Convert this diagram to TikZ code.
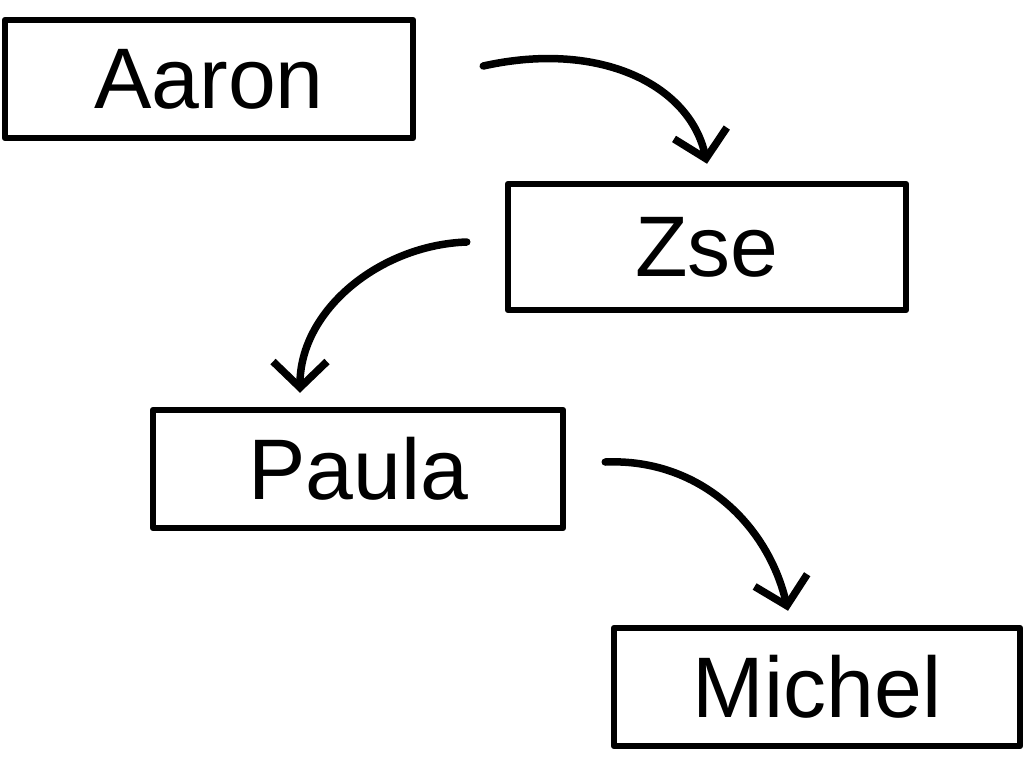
\documentclass[tikz,border=0pt]{standalone}
\usepackage{fontspec}
\setmainfont{Liberation Sans}
\usetikzlibrary{arrows.meta}
\begin{document}
\begin{tikzpicture}[x=1pt,y=-1pt,
  namebox/.style={draw=black,line width=6.5pt,line join=round,minimum width=#1,minimum height=118pt,inner sep=0pt,font=\fontsize{86}{100}\selectfont},
  conn/.style={line width=7.5pt,line cap=round,-{Straight Barb[length=26pt,width=54pt,line width=7.5pt]}}]
\useasboundingbox (0,0) rectangle (1024,768);
\node[namebox=408pt] (aaron) at (209,79) {Aaron};
\node[namebox=398pt,minimum height=126pt] (zse) at (707,247) {Zse};
\node[namebox=410pt] (paula) at (358,469) {Paula};
\node[namebox=406pt] (michel) at (817,687) {Michel};
\coordinate (a1) at ([shift={(67,-13)}]aaron.east);
\coordinate (a2) at ([shift={(0,-17)}]zse.north);
\coordinate (b1) at ([shift={(-38,-5)}]zse.west);
\coordinate (b2) at ([shift={(-58,-14)}]paula.north);
\coordinate (c1) at ([shift={(39,-7)}]paula.east);
\coordinate (c2) at ([shift={(-29,-14)}]michel.north);
\draw[conn] (a1) .. controls (600,40) and (690,85) .. (a2);
\draw[conn] (b1) .. controls (380,245) and (300,310) .. (b2);
\draw[conn] (c1) .. controls (700,458) and (768,525) .. (c2);
\end{tikzpicture}
\end{document}
